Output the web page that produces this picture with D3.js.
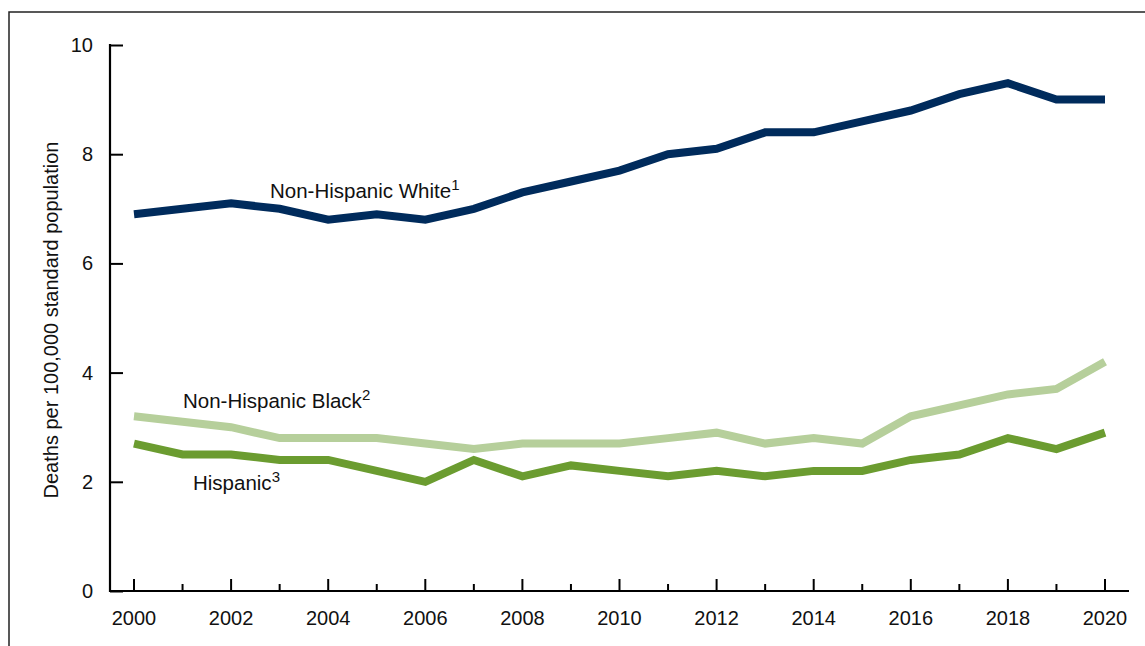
<!DOCTYPE html>
<html lang="en">
<head>
    <meta charset="UTF-8"/>
    <title>Deaths per 100,000 standard population, 2000-2020</title>
    <script src="https://d3js.org/d3.v7.min.js"></script>
    <style>
        html, body {
            margin: 0;
            padding: 0;
            background: white;
        }
        svg text {
            font-family: "Liberation Sans", Arial, sans-serif;
            fill: #111;
        }
    </style>
</head>
<body>
    <div class="chart-container"></div>
    <script>
        var w = 1145;
        var h = 646;

        // data
        var years = d3.range(2000, 2021);
        var white = [6.9, 7.0, 7.1, 7.0, 6.8, 6.9, 6.8, 7.0, 7.3, 7.5, 7.7, 8.0, 8.1, 8.4, 8.4, 8.6, 8.8, 9.1, 9.3, 9.0, 9.0];
        var black = [3.2, 3.1, 3.0, 2.8, 2.8, 2.8, 2.7, 2.6, 2.7, 2.7, 2.7, 2.8, 2.9, 2.7, 2.8, 2.7, 3.2, 3.4, 3.6, 3.7, 4.2];
        var hispanic = [2.7, 2.5, 2.5, 2.4, 2.4, 2.2, 2.0, 2.4, 2.1, 2.3, 2.2, 2.1, 2.2, 2.1, 2.2, 2.2, 2.4, 2.5, 2.8, 2.6, 2.9];
        var yTicks = [0, 2, 4, 6, 8, 10];
        var xLabels = [2000, 2002, 2004, 2006, 2008, 2010, 2012, 2014, 2016, 2018, 2020];

        var series = [
            {name: "Non-Hispanic White", sup: "1", values: white, color: "#002b5c", lx: 270, ly: 198},
            {name: "Non-Hispanic Black", sup: "2", values: black, color: "#b6cf9b", lx: 183, ly: 408},
            {name: "Hispanic", sup: "3", values: hispanic, color: "#6b9c30", lx: 193, ly: 490}
        ];

        var svg = d3.select(".chart-container")
                    .append("svg")
                    .attr("width", w)
                    .attr("height", h);

        // outer frame (runs off the right and bottom edges)
        svg.append("rect")
            .attr("x", 9)
            .attr("y", 12)
            .attr("width", 1200)
            .attr("height", 700)
            .attr("fill", "none")
            .attr("stroke", "#222")
            .attr("stroke-width", 1.5);

        var x = d3.scaleLinear().domain([2000, 2020]).range([134, 1105]);
        var y = d3.scaleLinear().domain([0, 10]).range([591, 45]);

        // y axis: ticks point inward
        var yAxis = svg.append("g")
            .attr("transform", "translate(110,0)")
            .call(d3.axisRight(y).tickValues(yTicks).tickSize(13).tickFormat(""));
        yAxis.select(".domain").remove();
        yAxis.selectAll(".tick line").attr("stroke", "#000").attr("stroke-width", 2);
        svg.append("line")
            .attr("x1", 110).attr("x2", 110)
            .attr("y1", y(10) - 1).attr("y2", y(0) + 1)
            .attr("stroke", "#000").attr("stroke-width", 2.2);

        svg.selectAll(".ylab")
            .data(yTicks)
            .enter()
            .append("text")
            .attr("class", "ylab")
            .attr("x", 93)
            .attr("y", function(d) { return y(d); })
            .attr("dy", "0.35em")
            .attr("text-anchor", "end")
            .attr("font-size", 20)
            .text(function(d) { return d; });

        // x axis: major ticks on even years, minor on odd years
        var xAxis = svg.append("g")
            .attr("transform", "translate(0," + y(0) + ")");
        xAxis.append("line")
            .attr("x1", 110).attr("x2", 1129)
            .attr("y1", 0).attr("y2", 0)
            .attr("stroke", "#000").attr("stroke-width", 2.2);
        xAxis.selectAll(".xt")
            .data(years)
            .enter()
            .append("line")
            .attr("class", "xt")
            .attr("x1", function(d) { return x(d); })
            .attr("x2", function(d) { return x(d); })
            .attr("y1", 0)
            .attr("y2", function(d) { return d % 2 === 0 ? -12 : -7; })
            .attr("stroke", "#000")
            .attr("stroke-width", 2);
        xAxis.selectAll(".xlab")
            .data(xLabels)
            .enter()
            .append("text")
            .attr("class", "xlab")
            .attr("x", function(d) { return x(d); })
            .attr("y", 34)
            .attr("text-anchor", "middle")
            .attr("font-size", 20)
            .text(function(d) { return d; });

        // axis title
        svg.append("text")
            .attr("transform", "translate(58,320) rotate(-90)")
            .attr("text-anchor", "middle")
            .attr("font-size", 20)
            .text("Deaths per 100,000 standard population");

        // lines
        var line = d3.line()
            .x(function(d, i) { return x(years[i]); })
            .y(function(d) { return y(d); });

        svg.selectAll(".series")
            .data(series)
            .enter()
            .append("path")
            .attr("class", "series")
            .attr("d", function(d) { return line(d.values); })
            .attr("fill", "none")
            .attr("stroke", function(d) { return d.color; })
            .attr("stroke-width", 8)
            .attr("stroke-linejoin", "miter");

        // labels with superscript footnote marks
        var lab = svg.selectAll(".lbl")
            .data(series)
            .enter()
            .append("text")
            .attr("class", "lbl")
            .attr("x", function(d) { return d.lx; })
            .attr("y", function(d) { return d.ly; })
            .attr("font-size", 20.5);
        lab.append("tspan").text(function(d) { return d.name; });
        lab.append("tspan")
            .attr("dy", -8)
            .attr("font-size", 15)
            .text(function(d) { return d.sup; });
    </script>
</body>
</html>
